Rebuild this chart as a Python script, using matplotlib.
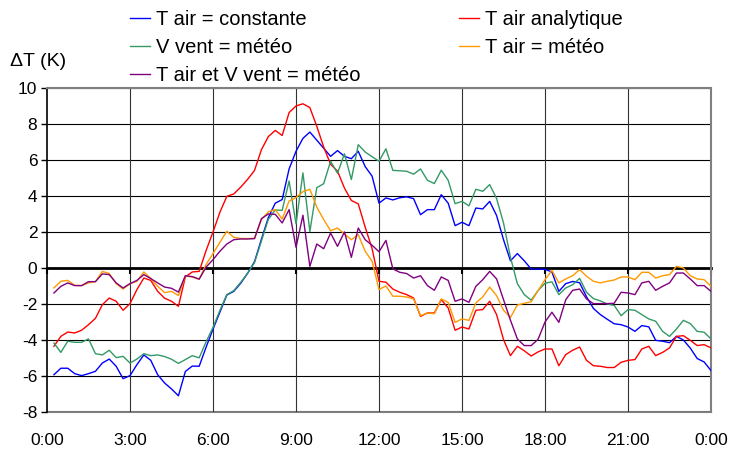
import numpy as np
import matplotlib
matplotlib.use("Agg")
import matplotlib.pyplot as plt

plt.rcParams['font.family'] = ['Liberation Sans', 'DejaVu Sans']
plt.rcParams['axes.unicode_minus'] = False

# pas de 15 min, de 0:15 a 24:00
heures = np.arange(1, 97) * 0.25

t_air_constante = [
    -5.93, -5.57, -5.57, -5.87, -5.98, -5.87, -5.74, -5.28, -5.06, -5.46, -6.15, -5.98,
    -5.37, -4.83, -5.13, -5.93, -6.39, -6.72, -7.10, -5.75, -5.45, -5.46, -4.40, -3.40,
    -2.45, -1.50, -1.30, -0.85, -0.30, 0.35, 1.60, 2.80, 3.60, 3.80, 5.50, 6.48,
    7.20, 7.55, 7.10, 6.65, 6.20, 6.52, 6.20, 6.07, 6.48, 5.63, 5.10, 3.60,
    3.89, 3.78, 3.90, 3.95, 3.85, 2.96, 3.24, 3.24, 4.07, 3.60, 2.35, 2.54,
    2.35, 3.33, 3.28, 3.70, 2.91, 1.57, 0.40, 0.80, 0.40, -0.06, -0.06, -0.08,
    -0.22, -1.30, -0.87, -0.75, -0.82, -1.60, -2.25, -2.59, -2.85, -3.10, -3.15, -3.28,
    -3.52, -3.20, -3.27, -4.02, -4.07, -4.15, -3.80, -4.00, -4.45, -5.03, -5.22, -5.70]

t_air_analytique = [
    -4.35, -3.80, -3.56, -3.61, -3.46, -3.15, -2.80, -2.04, -1.67, -1.85, -2.35, -1.98,
    -1.20, -0.56, -0.69, -1.30, -1.68, -1.85, -2.13, -0.50, -0.22, -0.19, 0.97, 2.00,
    3.10, 3.98, 4.11, 4.49, 4.92, 5.42, 6.57, 7.30, 7.64, 7.36, 8.63, 9.00,
    9.12, 8.91, 7.87, 6.72, 5.76, 5.38, 4.44, 3.75, 3.56, 2.27, 1.07, -0.74,
    -0.79, -1.17, -1.35, -1.48, -1.67, -2.69, -2.50, -2.50, -1.76, -2.22, -3.46, -3.28,
    -3.39, -2.35, -2.31, -1.85, -2.59, -3.98, -4.87, -4.35, -4.60, -4.89, -4.66, -4.50,
    -4.50, -5.43, -4.81, -4.57, -4.39, -5.13, -5.43, -5.46, -5.53, -5.53, -5.24, -5.13,
    -5.09, -4.50, -4.35, -4.87, -4.69, -4.44, -3.80, -3.76, -4.02, -4.31, -4.26, -4.44]

v_vent_meteo = [
    -4.17, -4.69, -4.07, -4.13, -4.13, -3.94, -4.76, -4.83, -4.57, -4.98, -4.91, -5.28,
    -5.06, -4.76, -4.87, -4.83, -4.92, -5.07, -5.30, -5.09, -4.87, -4.99, -4.10, -3.30,
    -2.35, -1.48, -1.26, -0.80, -0.29, 0.30, 1.50, 2.70, 3.22, 3.20, 4.83, 2.45,
    5.28, 2.02, 4.46, 4.68, 5.93, 5.26, 6.34, 4.91, 6.85, 6.44, 6.18, 5.93,
    6.62, 5.42, 5.40, 5.37, 5.21, 5.50, 4.87, 4.69, 5.43, 4.87, 3.57, 3.70,
    3.45, 4.37, 4.26, 4.63, 3.86, 2.50, 0.60, -0.87, -1.48, -1.79, -1.25, -0.85,
    -0.77, -1.48, -1.11, -0.93, -0.58, -1.35, -1.70, -1.83, -2.00, -2.08, -2.65, -2.31,
    -2.35, -2.59, -2.83, -2.96, -3.52, -3.80, -3.39, -2.91, -3.09, -3.52, -3.57, -3.94]

t_air_meteo = [
    -1.11, -0.74, -0.69, -0.96, -0.98, -0.83, -0.76, -0.19, -0.31, -0.87, -1.17, -0.87,
    -0.74, -0.22, -0.59, -1.02, -1.37, -1.30, -1.53, -0.45, -0.50, -0.63, 0.20, 0.80,
    1.43, 2.04, 1.70, 1.64, 1.63, 1.65, 2.69, 3.12, 3.24, 2.72, 3.72, 3.91,
    4.24, 4.37, 3.38, 2.69, 2.07, 2.22, 1.89, 1.57, 1.85, 0.93, 0.37, -1.20,
    -1.00, -1.57, -1.57, -1.61, -1.72, -2.65, -2.50, -2.54, -1.72, -1.91, -3.02, -2.83,
    -2.91, -1.94, -1.61, -1.06, -1.54, -2.35, -2.75, -2.06, -1.96, -1.88, -1.25, -0.65,
    -0.13, -0.83, -0.61, -0.43, -0.09, -0.46, -0.74, -0.83, -0.74, -0.67, -0.50, -0.50,
    -0.65, -0.24, -0.24, -0.56, -0.43, -0.37, 0.09, 0.00, -0.43, -0.61, -0.65, -1.02]

t_air_v_vent_meteo = [
    -1.39, -1.02, -0.83, -0.98, -0.98, -0.76, -0.76, -0.33, -0.37, -0.83, -1.11, -0.87,
    -0.69, -0.37, -0.59, -0.83, -1.06, -1.13, -1.34, -0.43, -0.48, -0.62, 0.05, 0.46,
    0.93, 1.33, 1.57, 1.61, 1.61, 1.63, 2.74, 3.00, 2.98, 2.50, 3.24, 1.15,
    2.93, 0.09, 1.33, 1.07, 1.94, 1.20, 2.00, 0.59, 2.22, 1.57, 1.26, 0.90,
    1.53, -0.05, -0.24, -0.31, -0.56, -0.43, -0.98, -1.24, -0.50, -0.69, -1.85, -1.72,
    -1.91, -1.02, -0.65, -0.19, -0.61, -1.76, -2.90, -3.94, -4.31, -4.31, -3.96, -3.00,
    -2.46, -3.02, -1.76, -1.24, -1.17, -1.72, -1.98, -1.98, -1.98, -1.96, -1.35, -1.39,
    -1.48, -0.83, -0.74, -1.24, -1.02, -0.83, -0.28, -0.28, -0.61, -0.98, -0.98, -1.30]

x_ticks = [0, 3, 6, 9, 12, 15, 18, 21, 24]
x_labels = ["0:00", "3:00", "6:00", "9:00", "12:00", "15:00", "18:00", "21:00", "0:00"]
y_ticks = list(range(-8, 11, 2))

fig = plt.figure(figsize=(7.3, 4.51), dpi=100)
ax = fig.add_axes([0.0644, 0.0865, 0.9096, 0.7185])

# grille
for yt in y_ticks:
    ax.axhline(yt, color="black", lw=0.8, zorder=1)
for xt in x_ticks[1:-1]:
    ax.axvline(xt, color="#333333", lw=0.8, zorder=1)

l_const, = ax.plot(heures, t_air_constante, color="#0000FF", lw=1.0, zorder=3)
l_ana, = ax.plot(heures, t_air_analytique, color="#FF0000", lw=1.0, zorder=3)
l_vent, = ax.plot(heures, v_vent_meteo, color="#339966", lw=1.0, zorder=3)
l_tair, = ax.plot(heures, t_air_meteo, color="#FF9900", lw=1.0, zorder=3)
l_both, = ax.plot(heures, t_air_v_vent_meteo, color="#800080", lw=1.0, zorder=3)

ax.set_xlim(0, 24)
ax.set_ylim(-8, 10)

# axe des x a y=0 (trait epais), etiquettes en bas
ax.spines["bottom"].set_position(("data", 0))
ax.spines["bottom"].set_linewidth(2.0)
ax.spines["bottom"].set_color("black")
ax.spines["bottom"].set_zorder(2)
ax.set_xticks(x_ticks)
ax.tick_params(axis="x", direction="out", length=4, width=1.5, labelbottom=False)

sec = ax.secondary_xaxis(0)
sec.set_xticks(x_ticks)
sec.set_xticklabels(x_labels, fontsize=12.5)
sec.tick_params(length=0, pad=15)
sec.spines["bottom"].set_color("#808080")
sec.spines["bottom"].set_linewidth(1.5)

ax.set_yticks(y_ticks)
ax.set_yticklabels([str(v) for v in y_ticks], fontsize=12.5)
ax.tick_params(axis="y", direction="out", length=4, width=1, pad=3)
ax.spines["left"].set_color("black")
ax.spines["left"].set_linewidth(1.2)
for s in ["top", "right"]:
    ax.spines[s].set_color("#808080")
    ax.spines[s].set_linewidth(1.5)

fig.text(0.014, 1 - 62 / 451, "ΔT (K)", fontsize=14, va="center")

fig.legend([l_const, l_vent, l_both, l_ana, l_tair],
           ["T air = constante", "V vent = météo", "T air et V vent = météo",
            "T air analytique", "T air = météo"],
           ncol=2, loc="upper left", bbox_to_anchor=(0.178, 0.978),
           frameon=False, fontsize=14.5, handlelength=1.0, handletextpad=0.3,
           labelspacing=0.46, columnspacing=4.9, borderpad=0, borderaxespad=0)

fig.savefig("out.png", dpi=100)
